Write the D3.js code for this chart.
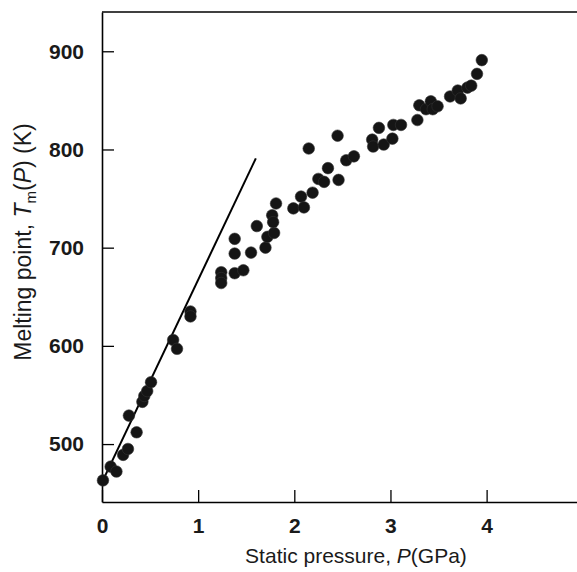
<!DOCTYPE html>
<html>
<head>
<meta charset="utf-8">
<script src="https://cdn.jsdelivr.net/npm/d3@7"></script>
<style>
  html, body { margin: 0; padding: 0; background: #fff; }
  svg { display: block; font-family: "Liberation Sans", Arial, sans-serif; }
</style>
</head>
<body>
<div id="chart"></div>
<script>
// measured melting points (pressure in GPa, temperature in K)
const pressure = [
  0.01, 0.09, 0.15, 0.22, 0.27, 0.28, 0.36, 0.42, 0.44, 0.47, 0.51,
  0.74, 0.78, 0.92, 0.92, 1.24, 1.24, 1.24, 1.38, 1.47, 1.38, 1.38,
  1.55, 1.61, 1.70, 1.72, 1.79, 1.77, 1.78, 1.81,
  1.99, 2.07, 2.10, 2.15, 2.19, 2.25, 2.31, 2.35, 2.46, 2.45, 2.54, 2.62,
  2.81, 2.82, 2.88, 2.93, 3.02, 3.03, 3.11, 3.28, 3.30, 3.37, 3.42, 3.44,
  3.49, 3.62, 3.70, 3.73, 3.80, 3.84, 3.90, 3.95
];
const meltT = [
  463, 477, 472, 489, 495, 529, 512, 543, 549, 554, 563,
  606, 597, 635, 630, 675, 669, 664, 674, 677, 694, 709,
  695, 722, 700, 711, 715, 733, 726, 745,
  740, 752, 741, 801, 756, 770, 767, 781, 769, 814, 789, 793,
  810, 803, 822, 805, 811, 825, 825, 830, 845, 841, 849, 841,
  844, 854, 860, 852, 863, 865, 877, 891
];

// initial slope line
const lineP = [0, 1.6];
const lineT = [461, 791];

const xTicks = [0, 1, 2, 3, 4];
const yTicks = [500, 600, 700, 800, 900];

const W = 577, H = 572;
const mLeft = 102, mRight = 577, mTop = 12, mBottom = 502;

const svg = d3.select('#chart').append('svg')
  .attr('width', W).attr('height', H);

const x = d3.scaleLinear().domain([0, 4.94]).range([mLeft, mRight]);
const y = d3.scaleLinear().domain([441, 940]).range([mBottom, mTop]);

// x axis with inward ticks
const xAxis = svg.append('g')
  .attr('transform', `translate(0,${mBottom})`)
  .call(d3.axisBottom(x).tickValues(xTicks).tickSizeInner(-12).tickSizeOuter(0).tickPadding(16).tickFormat(d3.format('d')));
xAxis.select('.domain').attr('stroke', '#000').attr('stroke-width', 1.6);
xAxis.selectAll('line').attr('stroke', '#000').attr('stroke-width', 1.3);
xAxis.selectAll('text').attr('fill', '#1a1a1a').style('font-size', '21px').style('font-weight', 'bold');

const yAxis = svg.append('g')
  .attr('transform', `translate(${mLeft},0)`)
  .call(d3.axisLeft(y).tickValues(yTicks).tickSizeInner(-12).tickSizeOuter(0).tickPadding(18));
yAxis.select('.domain').attr('stroke', '#000').attr('stroke-width', 1.6);
yAxis.selectAll('line').attr('stroke', '#000').attr('stroke-width', 1.3);
yAxis.selectAll('text').attr('fill', '#1a1a1a').style('font-size', '21px').style('font-weight', 'bold');

// top frame line
svg.append('line')
  .attr('x1', mLeft).attr('x2', mRight).attr('y1', mTop).attr('y2', mTop)
  .attr('stroke', '#000').attr('stroke-width', 1.6);

// straight line
svg.append('line')
  .attr('x1', x(lineP[0])).attr('y1', y(lineT[0]))
  .attr('x2', x(lineP[1])).attr('y2', y(lineT[1]))
  .attr('stroke', '#000').attr('stroke-width', 2);

// data points
svg.append('g').selectAll('circle')
  .data(pressure.map((p, i) => [p, meltT[i]]))
  .enter().append('circle')
  .attr('cx', d => x(d[0]))
  .attr('cy', d => y(d[1]))
  .attr('r', 5.8)
  .attr('fill', '#151515')
  .attr('stroke', '#333')
  .attr('stroke-width', 0.6);

// axis titles
svg.append('text')
  .attr('x', 356).attr('y', 563)
  .attr('text-anchor', 'middle')
  .style('font-size', '21px').attr('fill', '#1a1a1a')
  .html('Static pressure, <tspan font-style="italic">P</tspan>(GPa)');

svg.append('text')
  .attr('transform', 'translate(31,242) rotate(-90)')
  .attr('text-anchor', 'middle')
  .style('font-size', '23px').attr('fill', '#1a1a1a')
  .html('Melting point, <tspan font-style="italic">T</tspan><tspan dy="5" font-size="15px">m</tspan><tspan dy="-5">(</tspan><tspan font-style="italic">P</tspan>) (K)');
</script>
</body>
</html>
